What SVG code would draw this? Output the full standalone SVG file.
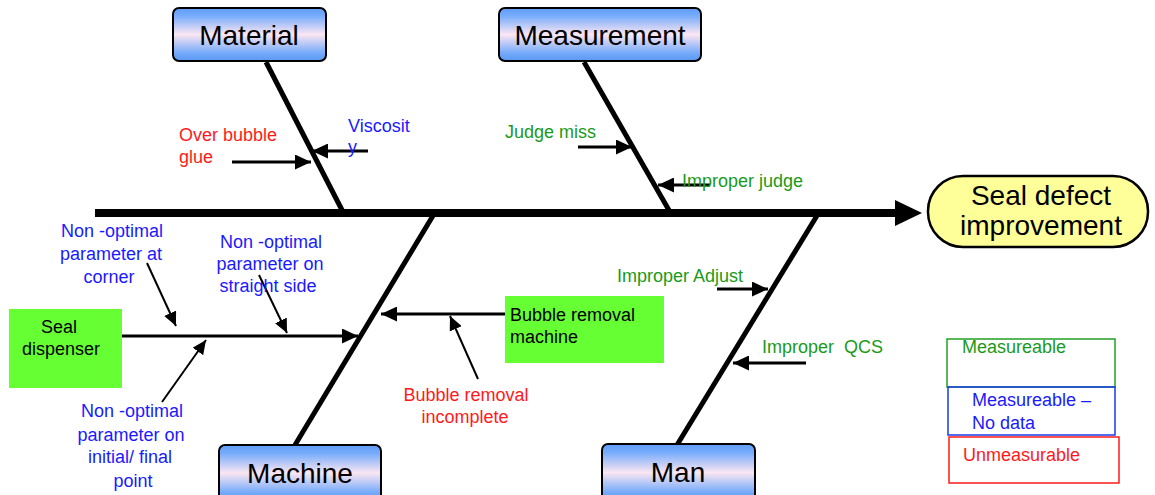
<svg xmlns="http://www.w3.org/2000/svg" width="1155" height="495" viewBox="0 0 1155 495">
  <style>
    text { font-family: "Liberation Sans", Arial, sans-serif; }
    .title { font-size: 28px; fill: #000; text-anchor: middle; }
    .lbl { font-size: 18px; }
    .red { fill: #ff1a1a; }
    .green { fill: #1a9a1a; }
    .blue { fill: #1a1aff; }
    .black { fill: #000; }
    .mid { text-anchor: middle; }
    .cat { fill: url(#catGrad); stroke: #000; stroke-width: 2; }
    .bone { stroke: #000; stroke-width: 5; fill: none; }
    .sub { stroke: #000; stroke-width: 3; fill: none; marker-end: url(#head); }
    .thin { stroke: #000; stroke-width: 2; fill: none; marker-end: url(#headSm); }
    .box { fill: #66ff33; stroke: none; }
  </style>
  <defs>
    <linearGradient id="catGrad" x1="0" y1="0" x2="0" y2="1">
      <stop offset="0" stop-color="#5f9cf7"/>
      <stop offset="0.15" stop-color="#77acfb"/>
      <stop offset="0.5" stop-color="#fbe6f2"/>
      <stop offset="0.85" stop-color="#74aafa"/>
      <stop offset="1" stop-color="#5a98f4"/>
    </linearGradient>
    <marker id="head" markerUnits="userSpaceOnUse" markerWidth="16" markerHeight="15" refX="16" refY="7.5" orient="auto">
      <path d="M0,0 L16,7.5 L0,15 Z" fill="#000"/>
    </marker>
    <marker id="headSm" markerUnits="userSpaceOnUse" markerWidth="14" markerHeight="13" refX="14" refY="6.5" orient="auto">
      <path d="M0,0 L14,6.5 L0,13 Z" fill="#000"/>
    </marker>
  </defs>

  <!-- spine and main bones -->
  <g id="connectors">
    <line x1="95" y1="213" x2="896" y2="213" stroke="#000" stroke-width="8"/>
    <path d="M895,200 L922,213 L895,226 Z" fill="#000"/>
    <line class="bone" x1="266" y1="62" x2="343" y2="212"/>
    <line class="bone" x1="584" y1="62" x2="670" y2="212"/>
    <line class="bone" x1="434" y1="214" x2="295" y2="445"/>
    <line class="bone" x1="818" y1="214" x2="677" y2="445"/>

    <!-- cause arrows -->
    <line class="sub" x1="232" y1="162" x2="311" y2="162"/>
    <line class="sub" x1="368" y1="151" x2="312" y2="151"/>
    <line class="sub" x1="578" y1="147" x2="632" y2="147"/>
    <line class="sub" x1="710" y1="185" x2="658" y2="185"/>
    <line class="sub" x1="717" y1="289" x2="768" y2="289"/>
    <line class="sub" x1="806" y1="363" x2="733" y2="363"/>
    <line class="sub" x1="505" y1="314" x2="381" y2="314"/>
    <line class="thin" x1="478" y1="379" x2="450" y2="316"/>
    <line class="sub" x1="122" y1="336" x2="358" y2="336"/>
    <line class="thin" x1="147" y1="263" x2="176" y2="326"/>
    <line class="thin" x1="259" y1="275" x2="287" y2="333"/>
    <line class="thin" x1="162" y1="402" x2="206" y2="340"/>
  </g>

  <g id="head-effect">
    <rect x="928" y="176" width="220" height="71" rx="35" ry="35" fill="#ffff99" stroke="#000" stroke-width="2.5"/>
    <text class="title" x="1041" y="205">Seal defect</text>
    <text class="title" x="1041" y="235">improvement</text>
  </g>

  <g id="cat-material">
    <rect class="cat" x="173" y="8" width="153" height="53" rx="6"/>
    <text class="title" x="249" y="45">Material</text>
  </g>
  <g id="cat-measurement">
    <rect class="cat" x="499" y="8" width="202" height="53" rx="6"/>
    <text class="title" x="600" y="45">Measurement</text>
  </g>
  <g id="cat-machine">
    <rect class="cat" x="219" y="445" width="162" height="56" rx="6"/>
    <text class="title" x="300" y="483">Machine</text>
  </g>
  <g id="cat-man">
    <rect class="cat" x="602" y="444" width="153" height="57" rx="6"/>
    <text class="title" x="678" y="482">Man</text>
  </g>

  <g id="material-causes">
    <text class="lbl red" x="179" y="141">Over bubble</text>
    <text class="lbl red" x="179" y="163">glue</text>
    <text class="lbl blue" x="348" y="132">Viscosit</text>
    <text class="lbl blue" x="348" y="153">y</text>
  </g>

  <g id="measurement-causes">
    <text class="lbl green" x="505" y="138">Judge miss</text>
    <text class="lbl green" x="682" y="187">Improper judge</text>
  </g>

  <g id="man-causes">
    <text class="lbl green" x="617" y="282">Improper Adjust</text>
    <text class="lbl green" x="762" y="353" xml:space="preserve">Improper  QCS</text>
  </g>

  <g id="bubble-machine">
    <rect class="box" x="505" y="296" width="159" height="67"/>
    <text class="lbl black" x="510" y="321">Bubble removal</text>
    <text class="lbl black" x="510" y="343">machine</text>
  </g>
  <g id="bubble-incomplete">
    <text class="lbl red mid" x="466" y="401">Bubble removal</text>
    <text class="lbl red mid" x="465" y="423">incomplete</text>
  </g>

  <g id="seal-dispenser">
    <rect class="box" x="9" y="309" width="113" height="79"/>
    <text class="lbl black mid" x="59" y="333">Seal</text>
    <text class="lbl black mid" x="61" y="355">dispenser</text>
  </g>
  <g id="param-corner">
    <text class="lbl blue mid" x="112" y="237">Non -optimal</text>
    <text class="lbl blue mid" x="111" y="260">parameter at</text>
    <text class="lbl blue mid" x="109" y="283">corner</text>
  </g>
  <g id="param-straight">
    <text class="lbl blue mid" x="271" y="248">Non -optimal</text>
    <text class="lbl blue mid" x="270" y="270">parameter on</text>
    <text class="lbl blue mid" x="268" y="292">straight side</text>
  </g>
  <g id="param-initial">
    <text class="lbl blue mid" x="132" y="417">Non -optimal</text>
    <text class="lbl blue mid" x="131" y="441">parameter on</text>
    <text class="lbl blue mid" x="130" y="463">initial/ final</text>
    <text class="lbl blue mid" x="133" y="487">point</text>
  </g>

  <g id="legend">
    <rect x="947" y="339" width="168" height="48" fill="none" stroke="#22a022" stroke-width="1.5"/>
    <text class="lbl green" x="962" y="353">Measureable</text>
    <rect x="948" y="387" width="167" height="48" fill="none" stroke="#1a3ae6" stroke-width="1.5"/>
    <text class="lbl blue" x="972" y="406">Measureable –</text>
    <text class="lbl blue" x="972" y="429">No data</text>
    <rect x="949" y="437" width="170" height="46" fill="none" stroke="#ff1a1a" stroke-width="1.5"/>
    <text class="lbl red" x="963" y="461">Unmeasurable</text>
  </g>
</svg>
